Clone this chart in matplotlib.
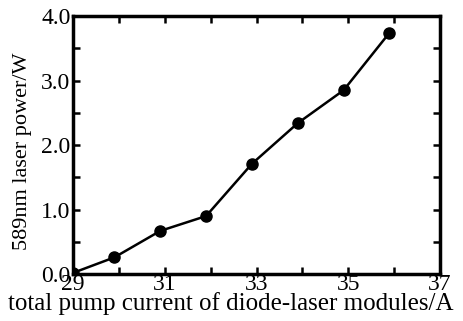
import matplotlib.pyplot as plt
from matplotlib.ticker import MultipleLocator

current = [29.0, 29.9, 30.9, 31.9, 32.9, 33.9, 34.9, 35.9]
power = [0.02, 0.26, 0.67, 0.90, 1.71, 2.34, 2.85, 3.74]
xticks = [29, 31, 33, 35, 37]

plt.rcParams['font.family'] = 'Liberation Serif'

fig = plt.figure(figsize=(4.63, 3.21), dpi=100)
ax = fig.add_axes([0.158, 0.146, 0.792, 0.804])

ax.plot(current, power, color='black', lw=1.8, marker='o', ms=8)

ax.set_xlim(29, 37)
ax.set_ylim(0, 4.0)
ax.set_xticks(xticks)
ax.xaxis.set_minor_locator(MultipleLocator(1))
ax.yaxis.set_major_locator(MultipleLocator(1))
ax.yaxis.set_minor_locator(MultipleLocator(0.5))
ax.yaxis.set_major_formatter(plt.FormatStrFormatter('%.1f'))

ax.tick_params(which='both', direction='in', top=True, right=True,
               width=1.8, length=5, labelsize=17)
ax.tick_params(axis='x', pad=0)
ax.tick_params(axis='y', pad=2)
for s in ax.spines.values():
    s.set_linewidth(2.5)

ax.set_xlabel('total pump current of diode-laser modules/A', fontsize=18)
ax.xaxis.set_label_coords(0.43, -0.068)
ax.xaxis.label.set_va('top')
ax.set_ylabel('589nm laser power/W', fontsize=16)
ax.yaxis.set_label_coords(-0.113, 0.477)

fig.savefig('out.png', dpi=100)
